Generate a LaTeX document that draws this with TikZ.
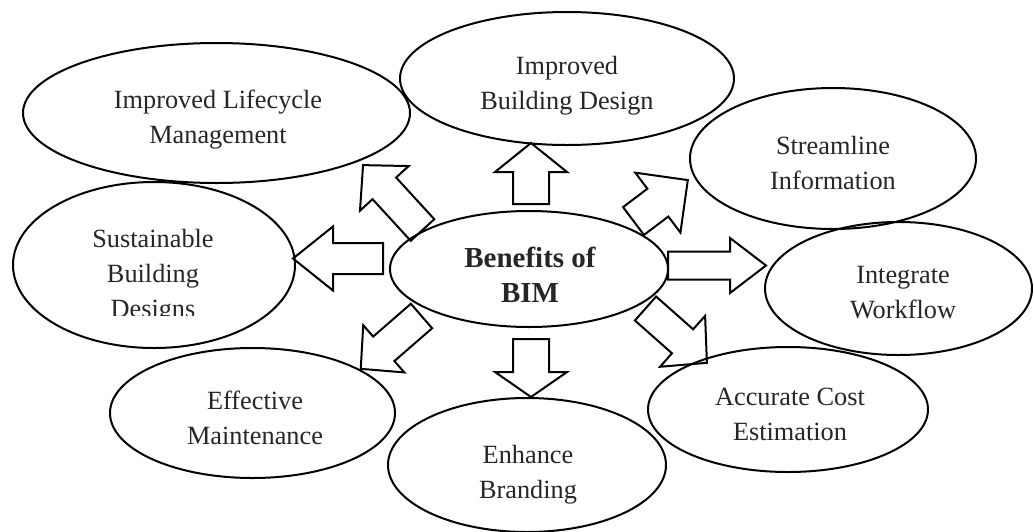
\documentclass[tikz,border=0pt]{standalone}
\usepackage{fontspec}
\setmainfont{Liberation Serif}
\usetikzlibrary{shapes.geometric}
\begin{document}
\begin{tikzpicture}[x=1pt,y=-1pt,
  ell/.style={draw=black, line width=2pt, ellipse, inner sep=0pt},
  lbl/.style={align=center, inner sep=0pt, text=black!85,
    font=\fontsize{26.3}{35}\selectfont,
    execute at begin node={\vphantom{lg}}, execute at end node={\vphantom{lg}}},
  blbl/.style={lbl, font=\fontsize{29}{35}\selectfont\bfseries},
  arrline/.style={draw=black, line width=2pt, line join=miter},
  pics/barrow/.style n args={4}{code={%
    \draw[arrline] (0,-#3) -- (#1,-#3) -- (#1,-#4) -- ({#1+#2},0) -- (#1,#4) -- (#1,#3) -- (0,#3) -- cycle;}}
]
\useasboundingbox[fill=white] (0,0) rectangle (1034,531);

% ellipses
\node[ell, minimum width=278pt, minimum height=116pt] (ct) at (529,269) {};
\node[ell, minimum width=387pt, minimum height=140pt] (lc) at (216.5,113) {};
\node[ell, minimum width=334pt, minimum height=133pt] (bd) at (567,78.5) {};
\node[ell, minimum width=286pt, minimum height=141pt] (sl) at (833,158.5) {};
\node[ell, minimum width=267pt, minimum height=133pt] (iw) at (898.5,288.5) {};
\node[ell, minimum width=280pt, minimum height=125pt] (ac) at (788,409.5) {};
\node[ell, minimum width=278pt, minimum height=134pt] (eb) at (527,465) {};
\node[ell, minimum width=285pt, minimum height=130pt] (em) at (252.5,413) {};
\node[ell, minimum width=282pt, minimum height=166pt] (sb) at (154,265) {};

% texts
\node[blbl] (ctT) at (530,277.5) {Benefits of\\BIM};
\node[lbl] (lcT) at (218,119.5) {Improved Lifecycle\\Management};
\node[lbl] (bdT) at (567,86) {Improved\\Building Design};
\node[lbl] (slT) at (833,165.5) {Streamline\\Information};
\node[lbl] (iwT) at (903,295.5) {Integrate\\Workflow};
\node[lbl] (acT) at (790,417.5) {Accurate Cost\\Estimation};
\node[lbl] (ebT) at (528,474.5) {Enhance\\Branding};
\node[lbl] (emT) at (255,420.5) {Effective\\Maintenance};
\begin{scope}
  \clip (0,0) rectangle (1034,315);
  \node[lbl] (sbT) at (153,276) {Sustainable\\Building\\Designs};
\end{scope}

% block arrows
\pic[rotate=90] at (531,204) {barrow={32}{29}{18}{36}};
\pic[rotate=-90] at (531,339) {barrow={33}{25}{18}{36}};
\pic[rotate=0] at (668,265.5) {barrow={62}{36}{14}{27.5}};
\pic[rotate=180] at (383,258.5) {barrow={50}{40}{15.5}{32}};
\pic[rotate=132.5] at (422.5,230) {barrow={56.5}{31.5}{16}{33}};
\pic[rotate=37] at (633.5,221) {barrow={30.5}{37.5}{17.4}{37.5}};
\pic[rotate=221] at (421.5,316) {barrow={50}{30.5}{16.2}{31.3}};
\pic[rotate=-41.5] at (645.5,308.5) {barrow={49.5}{32.5}{16}{34}};
\end{tikzpicture}
\end{document}
